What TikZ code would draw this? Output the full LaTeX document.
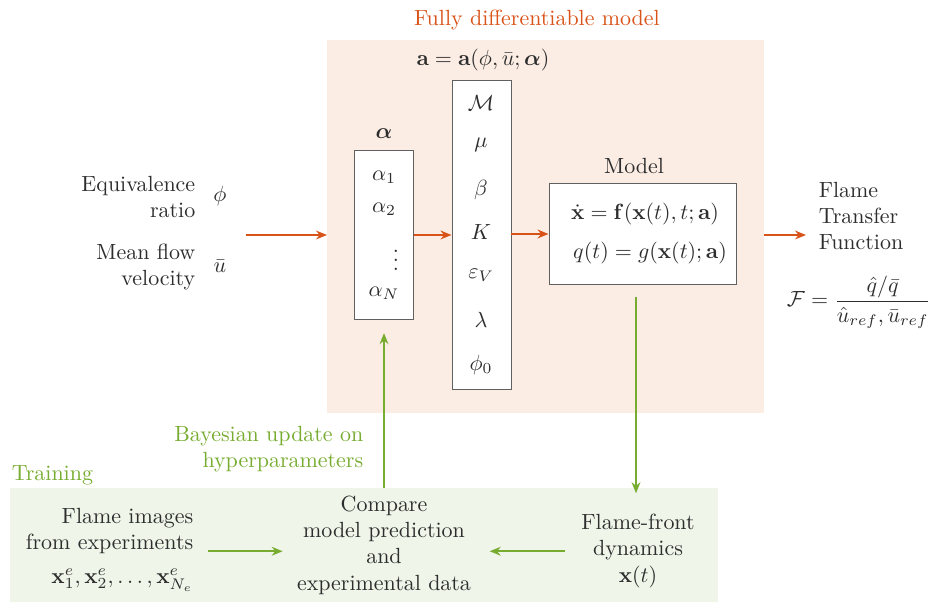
\documentclass[tikz,border=0pt]{standalone}
\usepackage{amsmath}
\usepackage{bm}
\usetikzlibrary{arrows.meta}
\definecolor{mlorange}{RGB}{217,83,25}
\definecolor{mlgreen}{RGB}{119,172,48}
\definecolor{bgorange}{RGB}{252,237,228}
\definecolor{bggreen}{RGB}{239,245,233}
\definecolor{txtgray}{RGB}{45,45,45}
\tikzset{
  box/.style={draw=gray!75!black,fill=white,line width=0.45pt,inner sep=0pt},
  orarrow/.style={draw=mlorange,line width=0.9pt,-{Stealth[length=5pt,width=4pt]}},
  grarrow/.style={draw=mlgreen,line width=0.9pt,-{Stealth[length=5pt,width=4pt]}}
}
\begin{document}
\begin{tikzpicture}[x=0.016cm,y=-0.016cm,every node/.style={text=txtgray}]
\useasboundingbox (0,0) rectangle (933,602);
\fill[bgorange] (327,40) rectangle (764,413);
\fill[bggreen] (10,488) rectangle (718,602);
\node[text=mlorange] (title) at (537,20) {Fully differentiable model};
\node[text=mlgreen,anchor=west] (training) at (4,475) {Training};
% inputs
\node[align=right,anchor=east] (eqratio) at (203,197) {Equivalence\\ratio};
\node (phi) at (220,196) {$\phi$};
\node[align=right,anchor=east] (meanflow) at (203,267) {Mean flow\\velocity};
\node (ubar) at (220,266) {$\bar{u}$};
\coordinate (inL) at (246,235);
\coordinate (inR) at (327,235);
\draw[orarrow] (inL)--(inR);
% hyperparameters
\node[box,minimum width=0.944cm,minimum height=2.704cm] (alphabox) at (384,235) {};
\node (alphalab) at (384,134) {$\bm{\alpha}$};
\node (a1) at (384,177) {$\alpha_1$};
\node (a2) at (384,209) {$\alpha_2$};
\node (adots) at (396,254) {$\vdots$};
\node (aN) at (384,293) {$\alpha_N$};
% parameters
\node[box,minimum width=0.944cm,minimum height=4.96cm] (parambox) at (481.5,235) {};
\node (paramlab) at (483,60) {$\mathbf{a}=\mathbf{a}(\phi,\bar{u};\bm{\alpha})$};
\node (pM) at (481,103) {$\mathcal{M}$};
\node (pmu) at (481,145) {$\mu$};
\node (pbeta) at (481,190) {$\beta$};
\node (pK) at (481,232) {$K$};
\node (peps) at (481,275) {$\varepsilon_V$};
\node (plam) at (481,320) {$\lambda$};
\node (pphi) at (481,365) {$\phi_0$};
\draw[orarrow] (alphabox.east)--(parambox.west |- alphabox.east);
% model
\node[box,minimum width=3.008cm,minimum height=1.632cm] (modelbox) at (643,234) {};
\node (modellab) at (634,166) {Model};
\node (eqx) at (645,214) {$\dot{\mathbf{x}}=\mathbf{f}(\mathbf{x}(t),t;\mathbf{a})$};
\node (eqq) at (650,253) {$q(t)=g(\mathbf{x}(t);\mathbf{a})$};
\draw[orarrow] (parambox.east |- modelbox.west)--(modelbox.west);
% output
\coordinate (outL) at (764,235);
\coordinate (outR) at (806,235);
\draw[orarrow] (outL)--(outR);
\node[align=left,anchor=west] (ftf) at (811,216) {Flame\\Transfer\\Function};
\node (ftfeq) at (859,302) {$\mathcal{F}=\dfrac{\hat{q}/\bar{q}}{\hat{u}_{ref},\bar{u}_{ref}}$};
% training
\node[align=right,anchor=east] (flameimg) at (201,531) {Flame images\\from experiments};
\node[anchor=east] (xe) at (201,580) {$\mathbf{x}^e_1,\mathbf{x}^e_2,\dots,\mathbf{x}^e_{N_e}$};
\node[align=center] (compare) at (384,545) {Compare\\model prediction\\and\\experimental data};
\node[align=center] (flamefront) at (638,551) {Flame-front\\dynamics\\$\mathbf{x}(t)$};
\node[text=mlgreen,align=right,anchor=east] (bayes) at (371,449) {Bayesian update on\\hyperparameters};
\coordinate (modout) at (636,297);
\draw[grarrow,shorten >=6pt] (modout)--(modout |- flamefront.north);
\draw[grarrow,shorten >=6pt] (compare.north)--(alphabox.south);
\draw[grarrow,shorten <=3pt,shorten >=3pt] ([yshift=-0.1cm]flameimg.east |- compare.west)--([yshift=-0.1cm]compare.west);
\draw[grarrow,shorten <=4pt,shorten >=5pt] ([yshift=-0.1cm]flamefront.west |- compare.east)--([yshift=-0.1cm]compare.east);
\end{tikzpicture}
\end{document}
